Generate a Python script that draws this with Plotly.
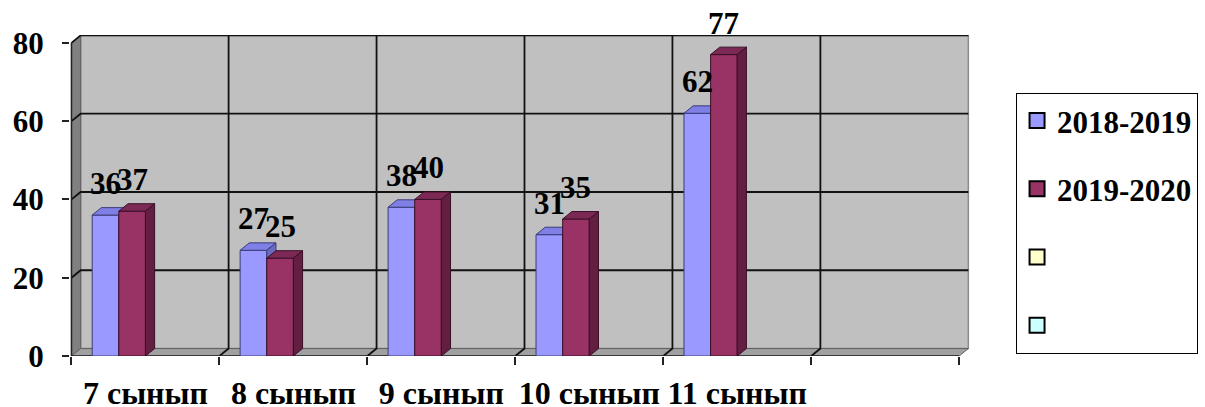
import plotly.graph_objects as go

categories = ["7 сынып", "8 сынып", "9 сынып", "10 сынып", "11 сынып"]
series_names = ["2018-2019", "2019-2020"]
values_2018 = [36, 27, 38, 31, 62]
values_2019 = [37, 25, 40, 35, 77]
labels_2018 = ["36", "27", "38", "31", "62"]
labels_2019 = ["37", "25", "40", "35", "77"]
yticks = [0, 20, 40, 60, 80]

FONT = "Liberation Serif, Times New Roman, serif"
n_slots = 6
dx, dy = 0.062, 1.9
bw = 0.18
offsets = [-0.27, -0.09]
front_cols = ["#9999ff", "#993366"]
top_cols = ["#7f7fe6", "#7d2955"]
side_cols = ["#6a6ac0", "#621f42"]
edge_cols = ["#3c3c78", "#3a0f26"]
legend_extra = ["#ffffcc", "#ccffff"]

fig = go.Figure()

def faces(vals, off):
    tx, ty, sx, sy = [], [], [], []
    for i, v in enumerate(vals):
        xl = i + off - bw / 2
        xr = i + off + bw / 2
        tx += [xl, xr, xr + dx, xl + dx, xl, None]
        ty += [v, v, v + dy, v + dy, v, None]
        sx += [xr, xr + dx, xr + dx, xr, xr, None]
        sy += [0, dy, v + dy, v, 0, None]
    return tx, ty, sx, sy

for k, (vals, labs) in enumerate([(values_2018, labels_2018), (values_2019, labels_2019)]):
    xa = "x" if k == 0 else "x2"
    ya = "y" if k == 0 else "y2"
    xs = [i + offsets[k] for i in range(len(vals))]
    fig.add_trace(go.Bar(
        x=xs, y=vals, width=bw, name=series_names[k], showlegend=False,
        marker=dict(color=front_cols[k], line=dict(color=edge_cols[k], width=1)),
        xaxis=xa, yaxis=ya, legendgroup=series_names[k], hoverinfo="skip"))
    tx, ty, sx, sy = faces(vals, offsets[k])
    fig.add_trace(go.Scatter(x=tx, y=ty, fill="toself", fillcolor=top_cols[k], mode="lines",
                             line=dict(color=edge_cols[k], width=1), showlegend=False,
                             xaxis=xa, yaxis=ya, hoverinfo="skip"))
    fig.add_trace(go.Scatter(x=sx, y=sy, fill="toself", fillcolor=side_cols[k], mode="lines",
                             line=dict(color=edge_cols[k], width=1), showlegend=False,
                             xaxis=xa, yaxis=ya, hoverinfo="skip"))
    for x, v, t in zip(xs, vals, labs):
        fig.add_annotation(x=x, y=v, xref="x", yref="y", text=t, showarrow=False,
                           yanchor="bottom", yshift=12,
                           font=dict(family=FONT, size=31, color="black", weight="bold"))

# legend entries (square swatches)
legend_names = series_names + [" ", "  "]
legend_cols = front_cols + legend_extra
for nm, col in zip(legend_names, legend_cols):
    fig.add_trace(go.Scatter(x=[None], y=[None], name=nm, legendgroup=nm, mode="markers",
                             marker=dict(symbol="square", size=15, color=col,
                                         line=dict(color="black", width=2))))

# 3D walls
L, R = -0.5, n_slots - 0.5
shapes = []
shapes.append(dict(type="path", layer="below", xref="x", yref="y",
                   path=f"M {L+dx},{dy} L {R+dx},{dy} L {R+dx},{80+dy} L {L+dx},{80+dy} Z",
                   fillcolor="#c0c0c0", line=dict(color="#8c8c8c", width=1.5)))
shapes.append(dict(type="path", layer="below", xref="x", yref="y",
                   path=f"M {L},0 L {L},80 L {L+dx},{80+dy} L {L+dx},{dy} Z",
                   fillcolor="#808080", line=dict(color="#606060", width=1)))
shapes.append(dict(type="path", layer="below", xref="x", yref="y",
                   path=f"M {L},0 L {R},0 L {R+dx},{dy} L {L+dx},{dy} Z",
                   fillcolor="#a0a0a0", line=dict(color="#606060", width=1)))
for v in yticks[1:]:
    shapes.append(dict(type="path", layer="below", xref="x", yref="y",
                       path=f"M {L},{v} L {L+dx},{v+dy} L {R+dx},{v+dy}",
                       line=dict(color="#111111", width=1.8)))
for b in range(1, n_slots):
    xb = L + b
    shapes.append(dict(type="path", layer="below", xref="x", yref="y",
                       path=f"M {xb},0 L {xb+dx},{dy} L {xb+dx},{80+dy}",
                       line=dict(color="#111111", width=1.8)))
shapes.append(dict(type="path", layer="below", xref="x", yref="y",
                   path=f"M {L},80 L {L},0 L {R},0",
                   line=dict(color="#222222", width=1.5)))
fig.update_layout(shapes=shapes)

fig.update_layout(
    width=1205, height=407,
    paper_bgcolor="white", plot_bgcolor="rgba(0,0,0,0)",
    barmode="overlay",
    margin=dict(l=70, r=234, t=35, b=51, autoexpand=False),
    font=dict(family=FONT, size=31, color="black", weight="bold"),
    xaxis=dict(range=[-0.51, 5.58], tickmode="array", tickvals=list(range(len(categories))),
               ticktext=categories, ticks="", showgrid=False, zeroline=False, showline=False,
               ticklabelstandoff=15,
               tickfont=dict(family=FONT, size=32, color="black", weight="bold"),
               minor=dict(tickmode="array", tickvals=[L + b for b in range(n_slots + 1)],
                          ticks="outside", ticklen=8, tickcolor="#222222", tickwidth=1.5,
                          showgrid=False)),
    yaxis=dict(range=[0, 82], tickmode="array", tickvals=yticks, ticks="outside", ticklen=7,
               tickcolor="#222222", tickwidth=1.5, showgrid=False, zeroline=False, showline=False,
               ticklabelstandoff=12,
               tickfont=dict(family=FONT, size=31, color="black", weight="bold")),
    xaxis2=dict(overlaying="x", matches="x", visible=False),
    yaxis2=dict(overlaying="y", matches="y", visible=False),
    legend=dict(x=1.05, y=0.82, xanchor="left", yanchor="top", bgcolor="white",
                bordercolor="black", borderwidth=1, tracegroupgap=25,
                font=dict(family=FONT, size=31, color="black", weight="bold")),
    showlegend=True,
)

fig.write_html("out.html", config={"displayModeBar": False},
               post_script="document.body.style.margin='0';")
